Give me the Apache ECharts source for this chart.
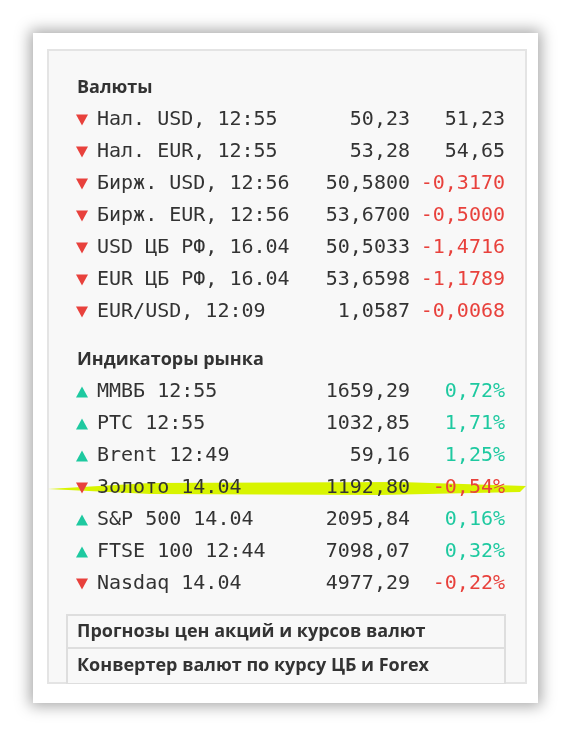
<!DOCTYPE html>
<html><head><meta charset="utf-8">
<script src="https://cdn.jsdelivr.net/npm/echarts@6/dist/echarts.min.js"></script>
<style>
html,body{margin:0;padding:0;background:#fff;width:574px;height:750px;overflow:hidden}
#card{position:absolute;left:33px;top:33px;width:505px;height:670px;background:#fff;box-shadow:0 0 14px 3px rgba(0,0,0,0.35)}
#c{position:absolute;left:0;top:0;width:574px;height:750px}
</style></head><body>
<div id="card"></div><div id="c"></div>
<script>
const headings = ['Валюты', 'Индикаторы рынка'];
const currencyNames = ['Нал. USD, 12:55','Нал. EUR, 12:55','Бирж. USD, 12:56','Бирж. EUR, 12:56','USD ЦБ РФ, 16.04','EUR ЦБ РФ, 16.04','EUR/USD, 12:09'];
const currencyValues = ['50,23','53,28','50,5800','53,6700','50,5033','53,6598','1,0587'];
const currencyChanges = ['51,23','54,65','-0,3170','-0,5000','-1,4716','-1,1789','-0,0068'];
const currencyDir = [-1,-1,-1,-1,-1,-1,-1];
const marketNames = ['ММВБ 12:55','РТС 12:55','Brent 12:49','Золото 14.04','S&P 500 14.04','FTSE 100 12:44','Nasdaq 14.04'];
const marketValues = ['1659,29','1032,85','59,16','1192,80','2095,84','7098,07','4977,29'];
const marketChanges = ['0,72%','1,71%','1,25%','-0,54%','0,16%','0,32%','-0,22%'];
const marketDir = [1,1,1,-1,1,1,-1];
const links = ['Прогнозы цен акций и курсов валют','Конвертер валют по курсу ЦБ и Forex'];

const RED='#e8413c', GREEN='#1ec9a0', TXT='#333333';
const slots = []; for (let i=0;i<32;i++) slots.push('s'+i);
const rows = [];
currencyNames.forEach((n,i)=>rows.push({slot:2+2*i,name:n,val:currencyValues[i],chg:currencyChanges[i],dir:currencyDir[i],colored:i>=2}));
marketNames.forEach((n,i)=>rows.push({slot:19+2*i,name:n,val:marketValues[i],chg:marketChanges[i],dir:marketDir[i],colored:true}));
const headRows=[{slot:0,name:headings[0]},{slot:17,name:headings[1]}];

const mono='"DejaVu Sans Mono", monospace';
const chart = echarts.init(document.getElementById('c'));
function lbl(data, fmt, align, colorFn, font, weight, size){
  return {
    type:'scatter', symbolSize:0, silent:true, z:5,
    itemStyle:{opacity:1},
    data: data.map(d=>({value:d.value, r:d.r, label:{color:colorFn(d.r)}})),
    label:{show:true, position:'inside', align:align, formatter:p=>fmt(p.data.r), opacity:1,
      fontFamily:font, fontSize:size, fontWeight:weight}
  };
}
chart.setOption({
  animation:false,
  grid:{left:0,right:0,top:80,height:512},
  xAxis:{type:'value',min:0,max:574,show:false},
  yAxis:{type:'category',data:slots,inverse:true,show:false},
  graphic:[
    {type:'rect',z:-10,shape:{x:48,y:50,width:478,height:633},style:{fill:'#f8f8f8',stroke:'#e4e4e4',lineWidth:2}},
    {type:'polygon',z:-5,shape:{points:[[48,489],[150,483],[400,482],[526,486],[520,492],[380,495],[150,494]]},style:{fill:'#d8f400'}},
    {type:'rect',z:-4,shape:{x:67,y:615,width:438,height:33},style:{fill:'#f8f8f8',stroke:'#dedede',lineWidth:2}},
    {type:'rect',z:-4,shape:{x:67,y:648,width:438,height:36},style:{fill:'#f8f8f8',stroke:'#dedede',lineWidth:2}},
    {type:'rect',z:-3,shape:{x:47,y:684,width:480,height:18},style:{fill:'#fff'}},
    {type:'text',x:77,y:632,style:{text:links[0],fill:'#333',font:'bold 18px "Open Sans"',verticalAlign:'middle'}},
    {type:'text',x:77,y:666,style:{text:links[1],fill:'#333',font:'bold 18px "Open Sans"',verticalAlign:'middle'}}
  ],
  series:[
    {type:'scatter',symbol:'triangle',symbolSize:[12,11],z:5,silent:true,itemStyle:{opacity:1},
      data:rows.map(r=>({value:[82,'s'+r.slot],symbolRotate:r.dir<0?180:0,itemStyle:{color:r.dir<0?RED:GREEN}}))},
    lbl(headRows.map(r=>({value:[77,'s'+r.slot],r})), r=>r.name,'left',()=>'#333','"Open Sans"','bold',18),
    lbl(rows.map(r=>({value:[97,'s'+r.slot],r})), r=>r.name,'left',()=>TXT,mono,'normal',20),
    lbl(rows.map(r=>({value:[410,'s'+r.slot],r})), r=>r.val,'right',()=>TXT,mono,'normal',20),
    lbl(rows.map(r=>({value:[505,'s'+r.slot],r})), r=>r.chg,'right',r=>!r.colored?TXT:(r.chg[0]==='-'?RED:GREEN),mono,'normal',20)
  ]
});
</script></body></html>
